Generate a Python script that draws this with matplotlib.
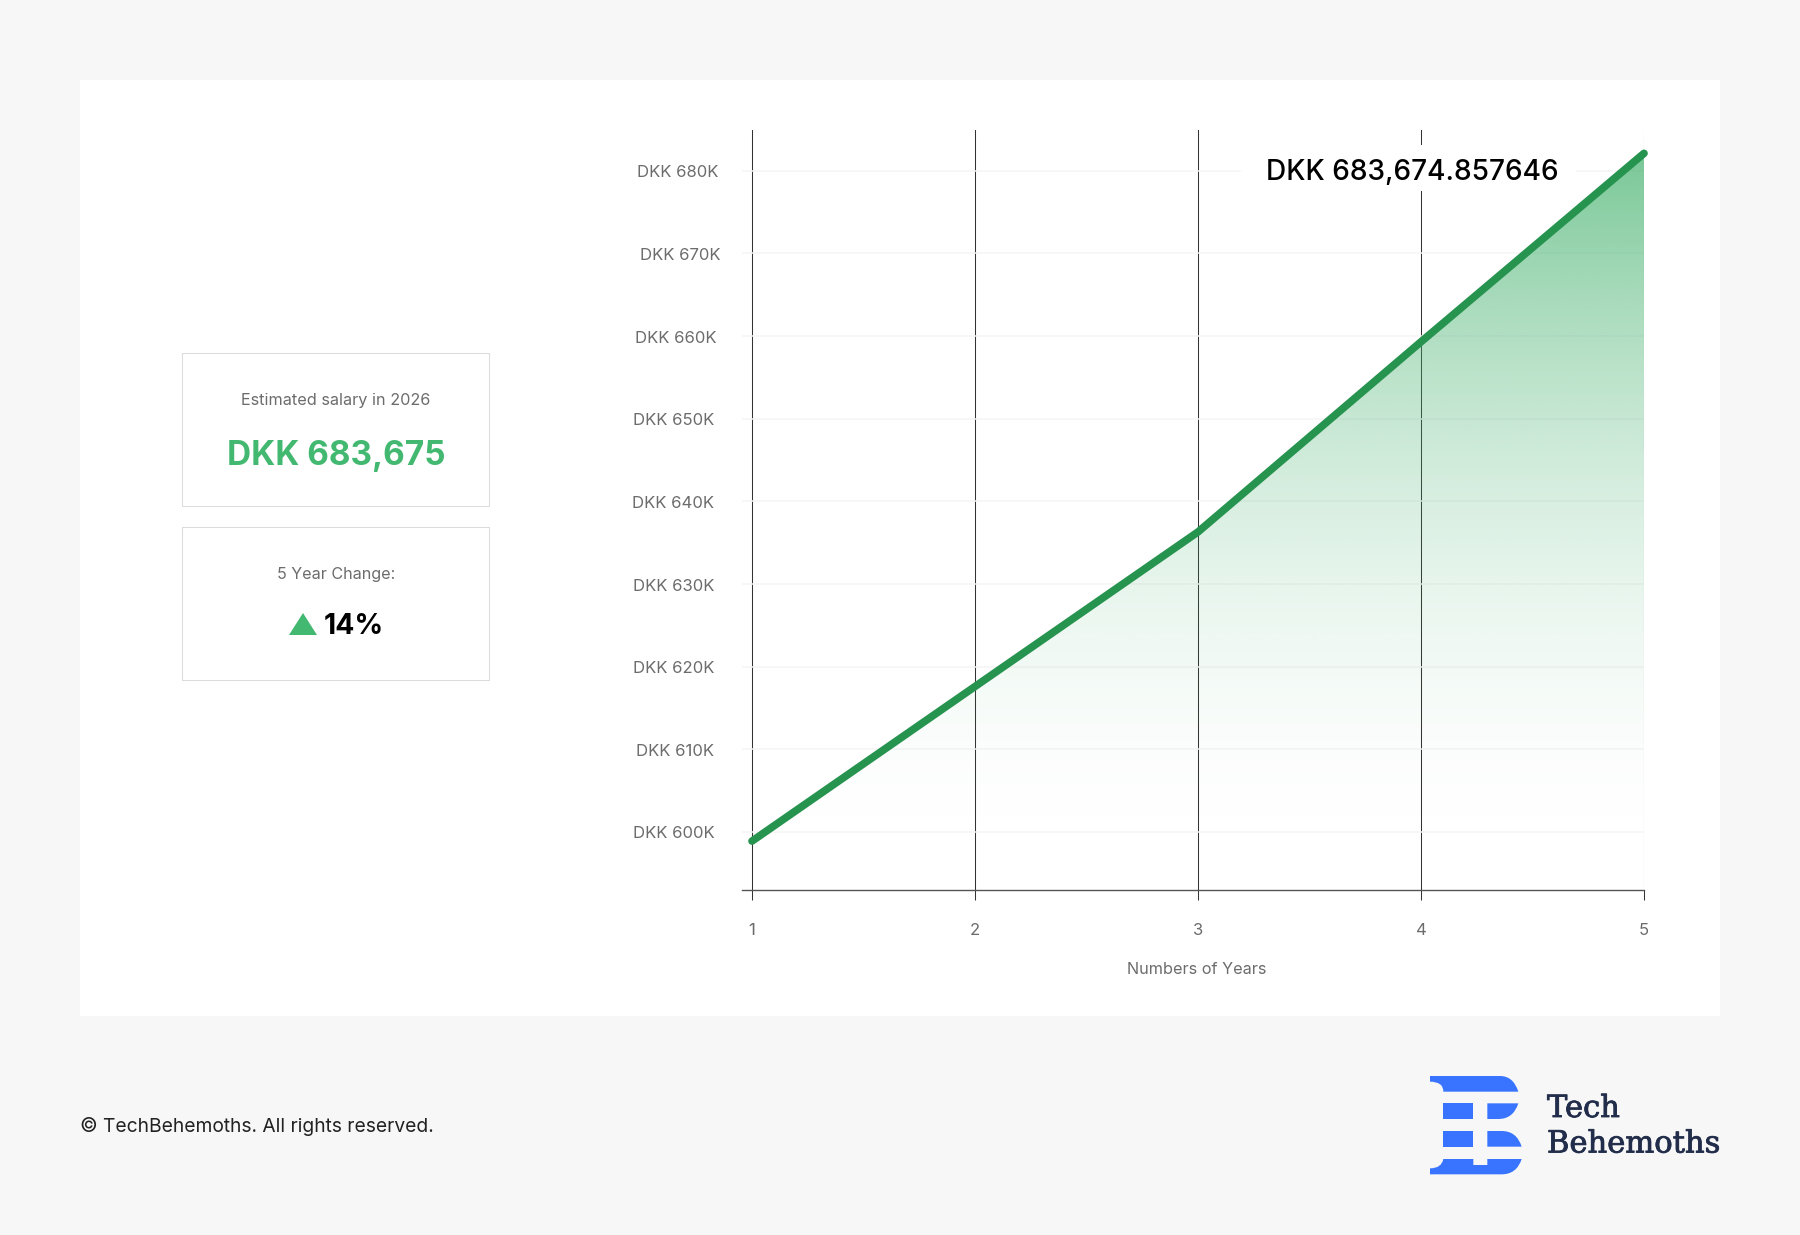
import matplotlib
matplotlib.use("Agg")
import matplotlib.pyplot as plt
import matplotlib.patheffects as pe
import numpy as np
from matplotlib.colors import to_rgb
from matplotlib.patches import PathPatch, Polygon, Rectangle
from matplotlib.path import Path
from matplotlib.transforms import ScaledTranslation

# --- data ---
years = [1, 2, 3, 4, 5]
salary = [598900, 617600, 636300, 659300, 682100]
y_ticks = [600000, 610000, 620000, 630000, 640000, 650000, 660000, 670000, 680000]
y_labels = ["DKK 600K", "DKK 610K", "DKK 620K", "DKK 630K", "DKK 640K",
            "DKK 650K", "DKK 660K", "DKK 670K", "DKK 680K"]
peak_label = "DKK 683,674.857646"
card_value = "DKK 683,675"
card_change = "14%"

BG = "#f7f7f7"
GREY = "#6c6c6c"
GREEN = "#43b871"
LINE = "#26934f"
NAVY = "#212d4a"
BLUE = "#3874ff"
W, H = 1800, 1235

plt.rcParams["font.family"] = ["Inter", "DejaVu Sans"]

fig = plt.figure(figsize=(W / 100, H / 100), dpi=100, facecolor=BG)

# --- pixel overlay for panel, cards, footer, logo ---
ov = fig.add_axes([0, 0, 1, 1], zorder=0)
ov.set_xlim(0, W)
ov.set_ylim(H, 0)
ov.axis("off")

ov.add_patch(Rectangle((80, 80), 1640, 936, fc="white", ec="none"))
for top in (353, 527):
    ov.add_patch(Rectangle((181.5, top), 307, 153, fc="white", ec="#dcdcdc", lw=0.75))

ov.text(336, 401, "Estimated salary in 2026", ha="center", va="center", fontsize=11.7, color=GREY)
ov.text(336, 456.5, card_value, ha="center", va="center", fontsize=24, color=GREEN, fontweight="bold")
ov.text(336, 575, "5 Year Change:", ha="center", va="center", fontsize=11.6, color=GREY)
ov.add_patch(Polygon([(289, 635), (303, 613), (317, 635)], fc=GREEN, ec="none"))
ov.text(353.5, 626, card_change, ha="center", va="center", fontsize=20.4, color="black", fontweight="bold")
ov.text(80, 1127, "© TechBehemoths. All rights reserved.", ha="left", va="center", fontsize=13.85, color="#222222")


# --- logo in zoomed crop coords ---
def lp(x, y):
    return (1400 + x / 3, 1050 + y / 3)


M, L, C, Z = Path.MOVETO, Path.LINETO, Path.CURVE3, Path.CLOSEPOLY
logo_parts = [
    ([(90, 78), (300, 78), (340, 78), (355, 125), (130, 125), (130, 95), (90, 95), (90, 78)],
     [M, L, C, C, L, C, C, Z]),
    ([(130, 160), (220, 160), (220, 207), (130, 207), (130, 160)], [M, L, L, L, Z]),
    ([(262, 160), (355, 160), (340, 207), (295, 207), (262, 207), (262, 160)], [M, L, C, C, L, Z]),
    ([(130, 243), (220, 243), (220, 290), (130, 290), (130, 243)], [M, L, L, L, Z]),
    ([(262, 243), (305, 243), (350, 243), (365, 290), (262, 290), (262, 243)], [M, L, C, C, L, Z]),
    ([(130, 327), (220, 327), (220, 345), (262, 345), (262, 327), (365, 327), (350, 373), (305, 373),
      (90, 373), (90, 355), (125, 355), (130, 327), (130, 327)],
     [M, L, L, L, L, L, C, C, L, L, C, C, Z]),
]
for pts, codes in logo_parts:
    ov.add_patch(PathPatch(Path([lp(*p) for p in pts], codes), fc=BLUE, ec="none"))
thick = [pe.withStroke(linewidth=0.6, foreground=NAVY)]
ov.text(1547, 1108.5, "Tech", ha="left", va="center", fontsize=22, color=NAVY, family="DejaVu Serif",
        path_effects=thick)
ov.text(1547, 1144, "Behemoths", ha="left", va="center", fontsize=22, color=NAVY, family="DejaVu Serif",
        path_effects=thick)

# --- chart axes: x=1 at px 752, x=5 at px 1644, 600K at py 832, 680K at py 170.7 ---
px_per_year = (1644 - 752) / 4
px_per_dkk = (832 - 170.7) / 80000
ax_left, ax_right, ax_top, ax_bottom = 742, 1644, 130, 890
ax = fig.add_axes([ax_left / W, 1 - ax_bottom / H, (ax_right - ax_left) / W, (ax_bottom - ax_top) / H],
                  zorder=1, facecolor="none")
ax.set_xlim(1 - (752 - ax_left) / px_per_year, 5)
ax.set_ylim(600000 - (ax_bottom - 832) / px_per_dkk, 600000 + (832 - ax_top) / px_per_dkk)

# gradient area under the line
rgba = np.zeros((256, 1, 4))
rgba[..., :3] = to_rgb("#46b26f")
rgba[:, 0, 3] = 0.72 * (1 - np.linspace(0, 1, 256)) ** 1.8
im = ax.imshow(rgba, extent=(1, 5, 597000, salary[-1]), origin="upper", aspect="auto", zorder=1,
               interpolation="bilinear")
xl, yl = ax.get_xlim(), ax.get_ylim()
clip = Polygon(list(zip(years, salary)) + [(5, 597000), (1, 597000)], transform=ax.transData,
               fc="none", ec="none")
ax.add_patch(clip)
im.set_clip_path(clip)
ax.set_xlim(xl)
ax.set_ylim(yl)

ax.set_xticks(years)
ax.set_yticks(y_ticks)
ax.set_yticklabels(y_labels)
ax.set_axisbelow(True)
ax.grid(axis="y", color="#f5f5f5", lw=1.1)
ax.grid(axis="x", color="#333333", lw=0.75)
for name in ("top", "right", "left"):
    ax.spines[name].set_visible(False)
ax.spines["bottom"].set_color("#555555")
ax.spines["bottom"].set_linewidth(1.0)
ax.tick_params(axis="y", length=0, labelcolor=GREY, labelsize=12, pad=20)
ax.tick_params(axis="x", length=7.5, width=0.75, color="#333333", labelcolor=GREY, labelsize=12, pad=16)
ax.set_xlabel("Numbers of Years", fontsize=11.7, color=GREY)
ax.xaxis.set_label_coords((1197 - ax_left) / (ax_right - ax_left), -(969.5 - ax_bottom) / (ax_bottom - ax_top))
ax.xaxis.label.set_va("center")

# reference labels are not perfectly right aligned
y_label_shift = [0, 0, 0, 0, 0, 0, 2, 6, 4]
for tick, dx in zip(ax.yaxis.get_major_ticks(), y_label_shift):
    tick.label1.set_transform(tick.label1.get_transform() + ScaledTranslation(dx / 100, -0.5 / 100, fig.dpi_scale_trans))

ax.plot(years, salary, color=LINE, lw=5.5, solid_capstyle="round", solid_joinstyle="round",
        zorder=3, clip_on=False)

# label with white box that cuts the grid
ax.add_patch(Rectangle((1241, 145), 335, 46, transform=ov.transData, fc="white", ec="none", zorder=2.5))
ax.text(1412, 172.5, peak_label, transform=ov.transData, ha="center", va="center", fontsize=20.2,
        color="black", fontweight=500, zorder=4)

fig.savefig("out.png", dpi=100, facecolor=BG)
